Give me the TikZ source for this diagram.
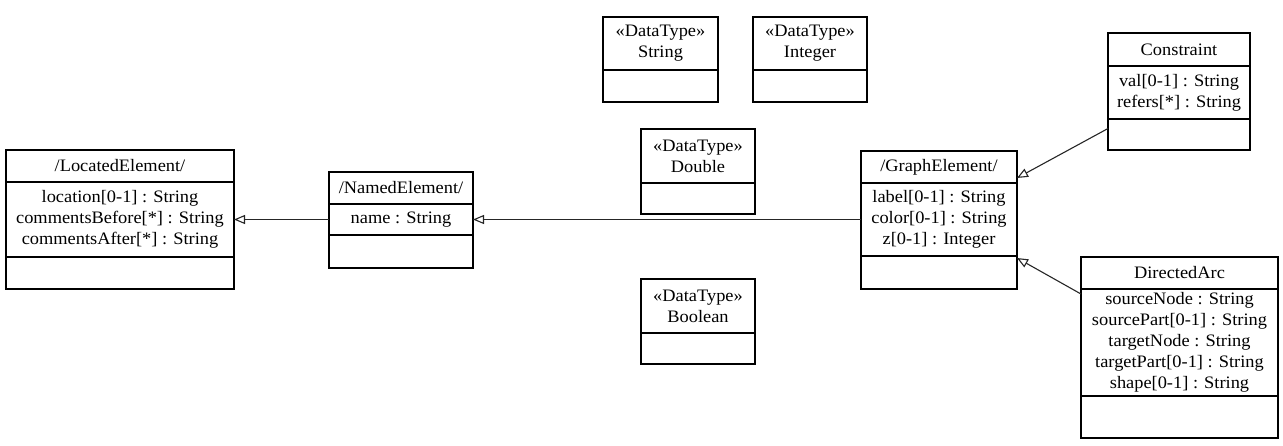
\documentclass[tikz,border=0pt]{standalone}
\usepackage{fontspec}
\setmainfont{Liberation Serif}
\newfontfamily\umlfont[FakeStretch=1.05]{Liberation Serif}
\usetikzlibrary{positioning,arrows.meta}

\begin{document}
\begin{tikzpicture}[
    x=1pt, y=-1pt,
    classbox/.style={draw=black, line width=1.2pt, inner sep=0pt, outer sep=0pt, align=center,
        font=\umlfont\fontsize{17.5}{21}\selectfont},
    generalization/.style={-{Triangle[open, length=11pt, width=9pt]}, line width=1.1pt, black!85}
]

\useasboundingbox (0,0) rectangle (1283,445);

% LocatedElement
\node[classbox, anchor=north west, minimum width=228pt, minimum height=32pt] (le) at (6,150) {/LocatedElement/};
\node[classbox, below=0pt of le, minimum width=228pt, minimum height=75pt] (le-a)
    {location[0-1] : String\\ commentsBefore[*] : String\\ commentsAfter[*] : String};
\node[classbox, below=0pt of le-a, minimum width=228pt, minimum height=32pt] (le-o) {};

% NamedElement
\node[classbox, anchor=north west, minimum width=144pt, minimum height=32pt] (ne) at (329,172) {/NamedElement/};
\node[classbox, below=0pt of ne, minimum width=144pt, minimum height=31pt] (ne-a) {name : String};
\node[classbox, below=0pt of ne-a, minimum width=144pt, minimum height=33pt] (ne-o) {};

% Data types
\node[classbox, anchor=north west, minimum width=115pt, minimum height=53pt] (str) at (603,17) {«DataType»\\ String};
\node[classbox, below=0pt of str, minimum width=115pt, minimum height=32pt] (str-o) {};

\node[classbox, anchor=north west, minimum width=114pt, minimum height=53pt] (int) at (753,17) {«DataType»\\ Integer};
\node[classbox, below=0pt of int, minimum width=114pt, minimum height=32pt] (int-o) {};

\node[classbox, anchor=north west, minimum width=114pt, minimum height=54pt] (dbl) at (641,129) {«DataType»\\ Double};
\node[classbox, below=0pt of dbl, minimum width=114pt, minimum height=31pt] (dbl-o) {};

\node[classbox, anchor=north west, minimum width=114pt, minimum height=54pt] (bool) at (641,279) {«DataType»\\ Boolean};
\node[classbox, below=0pt of bool, minimum width=114pt, minimum height=31pt] (bool-o) {};

% GraphElement
\node[classbox, anchor=north west, minimum width=156pt, minimum height=32pt] (ge) at (861,151) {/GraphElement/};
\node[classbox, below=0pt of ge, minimum width=156pt, minimum height=73pt] (ge-a)
    {label[0-1] : String\\ color[0-1] : String\\ z[0-1] : Integer};
\node[classbox, below=0pt of ge-a, minimum width=156pt, minimum height=33pt] (ge-o) {};

% Constraint
\node[classbox, anchor=north west, minimum width=142pt, minimum height=33pt] (cn) at (1108,33) {Constraint};
\node[classbox, below=0pt of cn, minimum width=142pt, minimum height=53pt] (cn-a)
    {val[0-1] : String\\ refers[*] : String};
\node[classbox, below=0pt of cn-a, minimum width=142pt, minimum height=31pt] (cn-o) {};

% DirectedArc
\node[classbox, anchor=north west, minimum width=197pt, minimum height=32pt] (da) at (1081,257) {DirectedArc};
\node[classbox, below=0pt of da, minimum width=197pt, minimum height=107pt] (da-a)
    {sourceNode : String\\ sourcePart[0-1] : String\\ targetNode : String\\ targetPart[0-1] : String\\ shape[0-1] : String};
\node[classbox, below=0pt of da-a, minimum width=197pt, minimum height=42pt] (da-o) {};

% Generalizations
\draw[generalization] (ne-a.west) -- (le-a.east);
\draw[generalization] (ge-a.west) -- (ne-a.east);
\draw[generalization] ([yshift=6pt]cn-o.west) -- ([yshift=5pt]ge.south east);
\draw[generalization] ([yshift=-5pt]da-a.north west) -- ([yshift=-2pt]ge-o.north east);

\end{tikzpicture}
\end{document}
